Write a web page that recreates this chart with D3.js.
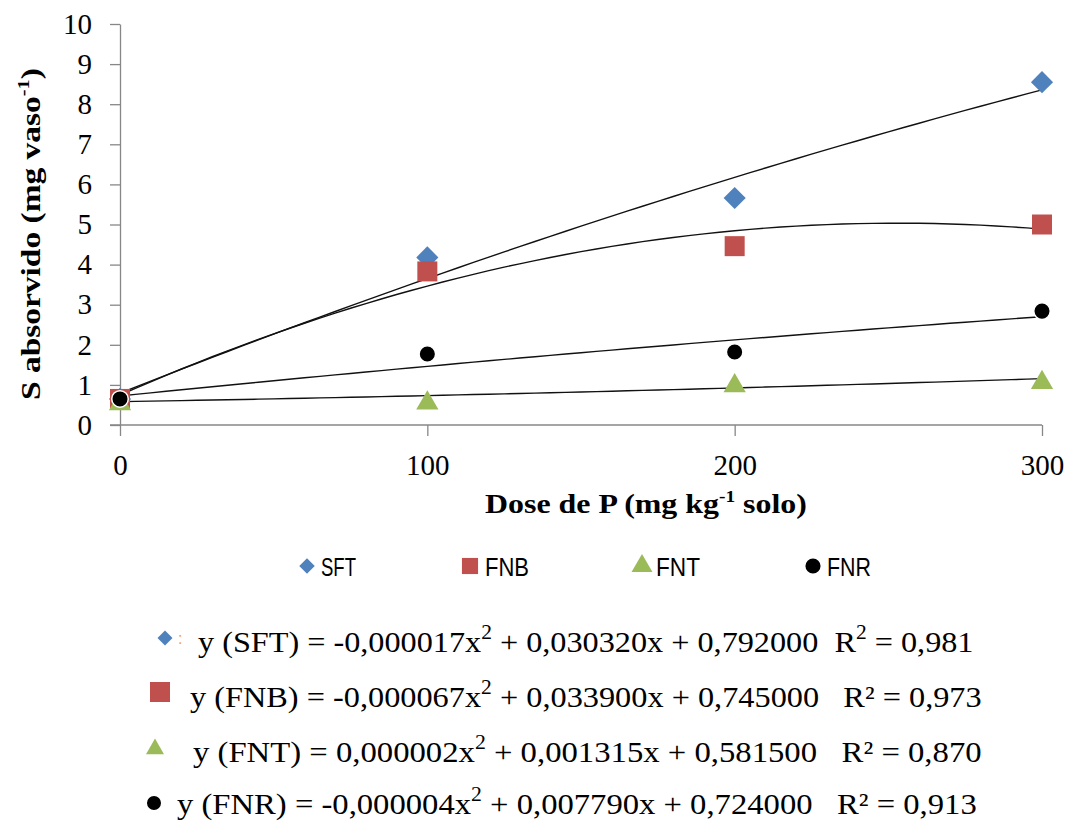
<!DOCTYPE html>
<html>
<head>
<meta charset="utf-8">
<script src="https://cdnjs.cloudflare.com/ajax/libs/d3/7.8.5/d3.min.js"></script>
<style>
  body { margin: 0; background: #fff; }
  svg { display: block; }
  .axis path, .axis line { stroke: #878787; stroke-width: 1.3px; }
  .axis text { font-family: "Liberation Serif", "Times New Roman", serif; font-size: 29px; fill: #000; }
</style>
</head>
<body>
<div id="chart"></div>
<script>
// data
var doses = [0, 100, 200, 300];
var seriesNames = ["SFT", "FNB", "FNT", "FNR"];
var sft = [0.65, 4.18, 5.66, 8.55];
var fnb = [0.65, 3.83, 4.46, 5.00];
var fnt = [0.60, 0.62, 1.05, 1.13];
var fnr = [0.65, 1.77, 1.82, 2.84];
// quadratic trend coefficients [a, b, c] : y = a x^2 + b x + c
var coefSFT = [-0.000017, 0.030320, 0.792000];
var coefFNB = [-0.000067, 0.033900, 0.745000];
var coefFNT = [0.000002, 0.001315, 0.581500];
var coefFNR = [-0.000004, 0.007790, 0.724000];
var r2Labels = ["0,981", "0,973", "0,870", "0,913"];
var yTicks = [0, 1, 2, 3, 4, 5, 6, 7, 8, 9, 10];

var svgWidth = 1070;
var svgHeight = 821;
var serif = "Liberation Serif, Times New Roman, serif";

var svg = d3.select("#chart")
  .append("svg")
  .attr("width", svgWidth)
  .attr("height", svgHeight);

var x = d3.scaleLinear().domain([0, 300]).range([120, 1042]);
var y = d3.scaleLinear().domain([0, 10]).range([425, 24]);

var colors = ["#4F81BD", "#C0504D", "#9BBB59", "#000000"];
var symbols = [
  { type: d3.symbolSquare, size: 245, rotate: 45 },
  { type: d3.symbolSquare, size: 400, rotate: 0 },
  { type: d3.symbolTriangle, size: 215, rotate: 0 },
  { type: d3.symbolCircle, size: 215, rotate: 0 }
];
var allSeries = [sft, fnb, fnt, fnr];
var allCoefs = [coefSFT, coefFNB, coefFNT, coefFNR];

// axes
svg.append("g")
  .attr("class", "axis")
  .attr("transform", "translate(0,425)")
  .call(d3.axisBottom(x).tickValues(doses).tickSize(11).tickSizeOuter(0).tickPadding(18))
  .attr("font-family", serif)
  .call(g => g.select(".domain").attr("d", "M110,0H1042"));

svg.append("g")
  .attr("class", "axis")
  .attr("transform", "translate(120,0)")
  .call(d3.axisLeft(y).tickValues(yTicks).tickSize(10).tickSizeOuter(0).tickPadding(18))
  .attr("font-family", serif);

// trend lines
var line = d3.line().x(d => x(d[0])).y(d => y(d[1]));
allCoefs.forEach(function(c) {
  var pts = d3.range(0, 301, 5).map(function(v) { return [v, c[0] * v * v + c[1] * v + c[2]]; });
  svg.append("path")
    .datum(pts)
    .attr("d", line)
    .attr("fill", "none")
    .attr("stroke", "#111")
    .attr("stroke-width", 1.4);
});

// markers
allSeries.forEach(function(vals, i) {
  var s = symbols[i];
  svg.append("g").selectAll("path")
    .data(vals)
    .enter()
    .append("path")
    .attr("d", d3.symbol().type(s.type).size(s.size))
    .attr("transform", (d, j) => `translate(${x(doses[j])},${y(d) + (i == 2 ? 3 : 0)}) rotate(${s.rotate})`)
    .attr("fill", colors[i])
    .attr("stroke", i == 3 ? "#fff" : "none")
    .attr("stroke-width", 1.5);
});

// helper: squeeze a text group horizontally to a target width
function fit(g, width) {
  var w = g.node().getBBox().width;
  g.attr("transform", g.attr("transform") + ` scale(${width / w},1)`);
}

// axis titles
var xt = svg.append("g").attr("transform", "translate(485,513)");
var xtt = xt.append("text")
  .attr("font-family", serif).attr("font-weight", "bold").attr("font-size", 28);
xtt.append("tspan").text("Dose de P (mg kg");
xtt.append("tspan").attr("font-size", 17).attr("dy", -11).text("-1");
xtt.append("tspan").attr("dy", 11).text(" solo)");
fit(xt, 322);

var yt = svg.append("g").attr("transform", "translate(40,400) rotate(-90)");
var ytt = yt.append("text")
  .attr("font-family", serif).attr("font-weight", "bold").attr("font-size", 28);
ytt.append("tspan").text("S absorvido (mg vaso");
ytt.append("tspan").attr("font-size", 17).attr("dy", -11).text("-1");
ytt.append("tspan").attr("dy", 11).text(")");
fit(yt, 332);

// legend
var legendX = [307, 470, 642, 813];
var legendTextX = [321, 485, 656, 827];
var legendTextW = [35, 44, 44, 44];
var legendSizes = [120, 260, 190, 180];
seriesNames.forEach(function(name, i) {
  svg.append("path")
    .attr("d", d3.symbol().type(symbols[i].type).size(legendSizes[i]))
    .attr("transform", `translate(${legendX[i]},566) rotate(${symbols[i].rotate})`)
    .attr("fill", colors[i]);
  var g = svg.append("g").attr("transform", `translate(${legendTextX[i]},576)`);
  g.append("text")
    .attr("font-family", "Liberation Sans, Arial, sans-serif")
    .attr("font-size", 25)
    .text(name);
  fit(g, legendTextW[i]);
});

// equations
function fmt(v) {
  return (v < 0 ? "-" : "") + Math.abs(v).toFixed(6).replace(".", ",");
}
var eqX = [198, 190, 193, 177];
var eqY = [652, 707, 762, 814];
var eqW = [776, 792, 789, 800];
var eqMark = [[165, 638, 112], [160, 692, 400], [155, 749, 140], [154, 803, 154]];
allCoefs.forEach(function(c, i) {
  svg.append("path")
    .attr("d", d3.symbol().type(symbols[i].type).size(eqMark[i][2]))
    .attr("transform", `translate(${eqMark[i][0]},${eqMark[i][1]}) rotate(${symbols[i].rotate})`)
    .attr("fill", colors[i]);
  var g = svg.append("g").attr("transform", `translate(${eqX[i]},${eqY[i]})`);
  var t = g.append("text").attr("font-family", serif).attr("font-size", 30)
    .style("white-space", "pre");
  t.append("tspan").text(`y (${seriesNames[i]}) = ${fmt(c[0])}x`);
  t.append("tspan").attr("font-size", 20).attr("dy", -13).text("2");
  t.append("tspan").attr("dy", 13).text(` + ${fmt(c[1])}x + ${fmt(c[2])}` + (i == 0 ? "  R" : "   R"));
  if (i == 0) {
    t.append("tspan").attr("font-size", 20).attr("dy", -13).text("2");
    t.append("tspan").attr("dy", 13).text(" = " + r2Labels[i]);
  } else {
    t.append("tspan").text("² = " + r2Labels[i]);
  }
  fit(g, eqW[i]);
});
// small orange mark next to the first equation symbol
svg.append("text")
  .attr("x", 178).attr("y", 644)
  .attr("font-family", "Liberation Sans, Arial, sans-serif")
  .attr("font-size", 16)
  .attr("fill", "#F7A13A")
  .text(":");
</script>
</body>
</html>
